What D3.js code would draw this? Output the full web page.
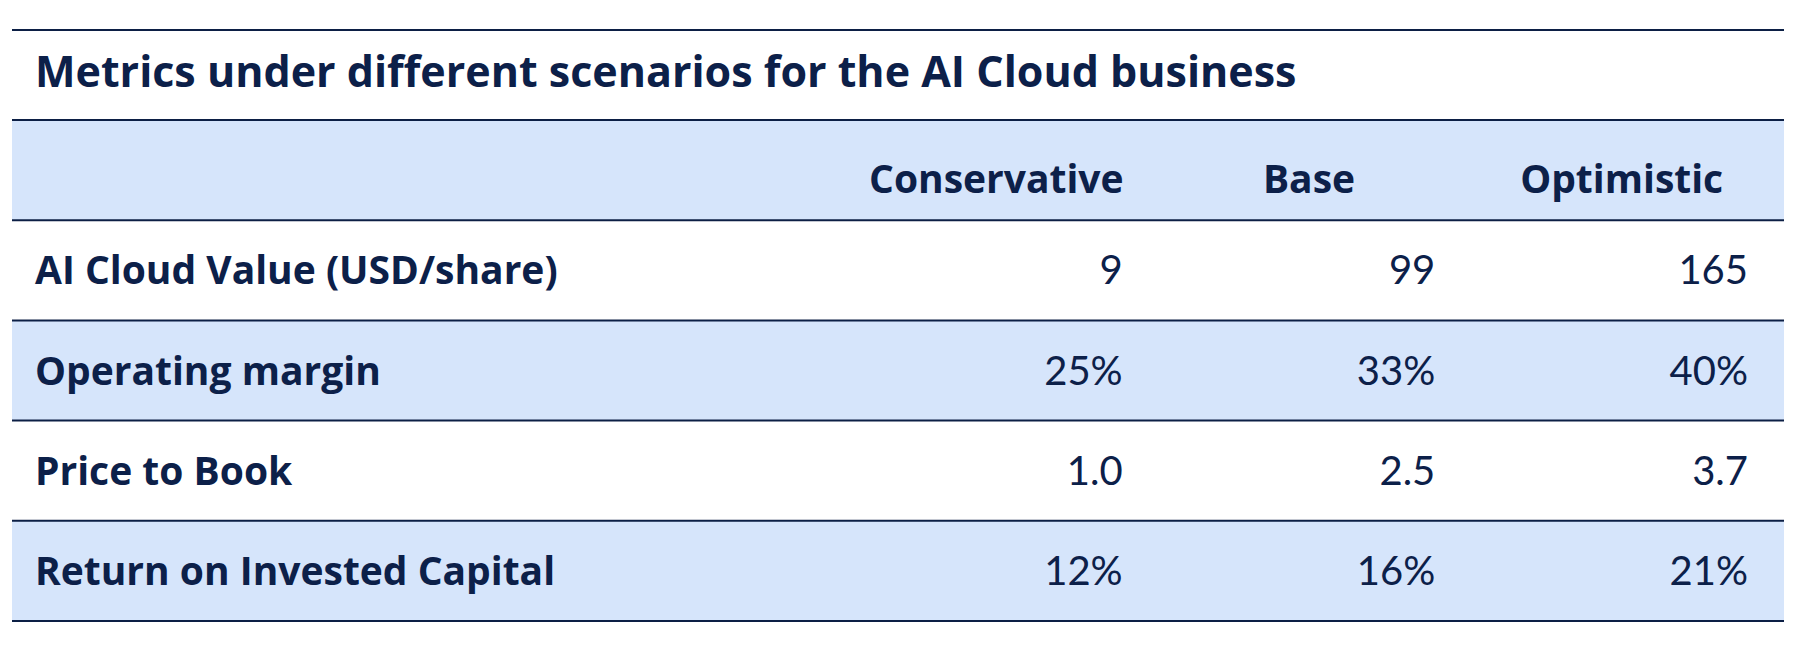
<!DOCTYPE html>
<html lang="en">
<head>
    <meta charset="UTF-8">
    <title>Metrics under different scenarios for the AI Cloud business</title>
    <script src="https://d3js.org/d3.v7.min.js"></script>
    <style>
        body {
            margin: 0;
            background-color: white;
            font-family: "Open Sans", "Noto Sans", sans-serif;
        }
        .title { font-size: 43px; font-weight: 700; fill: #0c2049; }
        .head { font-size: 39px; font-weight: 700; fill: #0c2049; }
        .label { font-size: 39px; font-weight: 700; fill: #0c2049; }
        .value { font-family: Lato, "Open Sans", sans-serif; font-size: 40px; font-weight: 400; fill: #0c2049; }
    </style>
</head>
<body>
    <div id="table"></div>

    <script>
        const title = "Metrics under different scenarios for the AI Cloud business";
        const scenarios = ["Conservative", "Base", "Optimistic"];
        const metrics = ["AI Cloud Value (USD/share)", "Operating margin", "Price to Book", "Return on Invested Capital"];

        const aiCloudValue = [9, 99, 165];
        const operatingMargin = [25, 33, 40];
        const priceToBook = [1.0, 2.5, 3.7];
        const returnOnCapital = [12, 16, 21];

        const rowsData = [
            { metric: metrics[0], values: aiCloudValue, fmt: d3.format("d") },
            { metric: metrics[1], values: operatingMargin, fmt: d => d + "%" },
            { metric: metrics[2], values: priceToBook, fmt: d3.format(".1f") },
            { metric: metrics[3], values: returnOnCapital, fmt: d => d + "%" }
        ];

        const width = 1808, height = 664;
        const tableLeft = 12, tableRight = 1784;
        const tableTop = 30, headTop = 120, tableBottom = 621;
        const pad = 23, numPad = 36;
        const navy = "#0c1f45", band = "#d6e5fb";

        const svg = d3.select("#table")
            .append("svg")
            .attr("width", width)
            .attr("height", height);

        const yScale = d3.scaleBand()
            .domain(["header", ...metrics])
            .range([headTop, tableBottom]);

        const xScale = d3.scaleBand()
            .domain(scenarios)
            .range([846, tableRight]);

        // Shaded bands: header and every other row
        const shaded = ["header", metrics[1], metrics[3]];
        svg.selectAll("rect.band")
            .data(shaded)
            .enter().append("rect")
            .attr("class", "band")
            .attr("x", tableLeft)
            .attr("width", tableRight - tableLeft)
            .attr("y", d => yScale(d))
            .attr("height", yScale.bandwidth())
            .attr("fill", band);

        // Title
        svg.append("text")
            .attr("class", "title")
            .attr("x", tableLeft + pad)
            .attr("y", 87)
            .text(title);

        // Header labels
        svg.selectAll("text.head")
            .data(scenarios)
            .enter().append("text")
            .attr("class", "head")
            .attr("x", d => xScale(d) + xScale.bandwidth() / 2 - 6)
            .attr("y", yScale("header") + yScale.bandwidth() / 2 + 23)
            .attr("text-anchor", "middle")
            .text(d => d);

        // Rows
        const row = svg.selectAll("g.row")
            .data(rowsData)
            .enter().append("g")
            .attr("class", "row")
            .attr("transform", d => `translate(0,${yScale(d.metric) + yScale.bandwidth() / 2 + 14})`);

        row.append("text")
            .attr("class", "label")
            .attr("x", tableLeft + pad)
            .text(d => d.metric);

        row.selectAll("text.value")
            .data(d => d.values.map((v, i) => ({ v, s: scenarios[i], fmt: d.fmt })))
            .enter().append("text")
            .attr("class", "value")
            .attr("x", d => xScale(d.s) + xScale.bandwidth() - numPad)
            .attr("text-anchor", "end")
            .text(d => d.fmt(d.v));

        // Horizontal rules
        const rules = [tableTop, ...yScale.domain().map(d => yScale(d)), tableBottom];
        svg.selectAll("line.rule")
            .data(rules)
            .enter().append("line")
            .attr("class", "rule")
            .attr("x1", tableLeft)
            .attr("x2", tableRight)
            .attr("y1", d => d)
            .attr("y2", d => d)
            .attr("stroke", navy)
            .attr("stroke-width", 2);
    </script>
</body>
</html>
